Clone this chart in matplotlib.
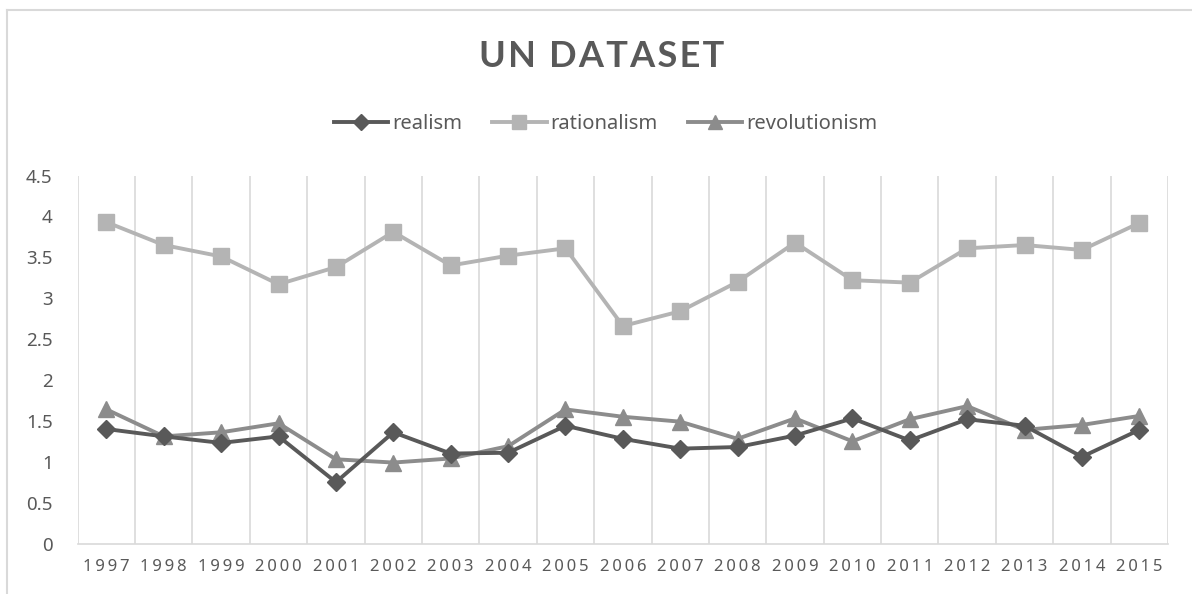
import matplotlib
matplotlib.use("Agg")
import matplotlib.pyplot as plt
from matplotlib.lines import Line2D

plt.rcParams['font.family'] = ['Noto Sans', 'DejaVu Sans']

lata = ["1997", "1998", "1999", "2000", "2001", "2002", "2003", "2004", "2005", "2006",
        "2007", "2008", "2009", "2010", "2011", "2012", "2013", "2014", "2015"]
realism = [1.40, 1.31, 1.23, 1.31, 0.75, 1.36, 1.10, 1.11, 1.44, 1.28,
           1.16, 1.18, 1.32, 1.53, 1.26, 1.52, 1.44, 1.06, 1.39]
rationalism = [3.93, 3.65, 3.51, 3.17, 3.38, 3.81, 3.40, 3.52, 3.61, 2.66,
               2.84, 3.20, 3.68, 3.22, 3.19, 3.61, 3.65, 3.59, 3.92]
revolutionism = [1.64, 1.31, 1.36, 1.47, 1.03, 0.99, 1.04, 1.19, 1.64, 1.55,
                 1.49, 1.28, 1.53, 1.25, 1.52, 1.68, 1.39, 1.45, 1.56]
y_ticks = [0, 0.5, 1, 1.5, 2, 2.5, 3, 3.5, 4, 4.5]

fig = plt.figure(figsize=(11.92, 5.94), dpi=100)
ax = fig.add_axes([0.0652, 0.0850, 0.9147, 0.6195])

# ramka wykresu (widoczna tylko z lewej i u gory)
ramka = "#d9d9d9"
fig.add_artist(Line2D([7.5 / 1192, 7.5 / 1192], [0, 1 - 10 / 594], color=ramka, lw=1.5))
fig.add_artist(Line2D([7.5 / 1192, 1], [1 - 10 / 594, 1 - 10 / 594], color=ramka, lw=1.5))

x = list(range(len(lata)))
ax.plot(x, realism, color="#595959", lw=2.8, marker="D", ms=9.5, label="realism", zorder=4)
ax.plot(x, rationalism, color="#b4b4b4", lw=2.8, marker="s", ms=12, label="rationalism", zorder=3)
ax.plot(x, revolutionism, color="#8c8c8c", lw=2.8, marker="^", ms=12, label="revolutionism", zorder=3)

# pionowe linie siatki miedzy kategoriami
for i in range(len(lata) + 1):
    ax.axvline(i - 0.5, color="#d9d9d9", lw=1.2, zorder=0)

ax.set_xlim(-0.5, len(lata) - 0.5)
ax.set_ylim(0, 4.5)
ax.set_yticks(y_ticks)
ax.set_yticklabels([f"{v:g}" for v in y_ticks], fontsize=13.5, color="#595959")
ax.set_xticks(x)
ax.set_xticklabels(["\u2009".join(r) for r in lata], fontsize=12, color="#595959")
ax.tick_params(axis="both", length=0)
ax.tick_params(axis="y", pad=18)
ax.tick_params(axis="x", pad=11)
for s in ["top", "right", "left"]:
    ax.spines[s].set_visible(False)
ax.spines["bottom"].set_color("#d9d9d9")
ax.spines["bottom"].set_linewidth(1.2)

fig.text(0.505, 0.905, "\u200a".join("UN DATASET"), ha="center", va="center",
         fontsize=26, fontweight="bold", color="#595959", family=["Lato", "DejaVu Sans"])
fig.legend(loc="center", bbox_to_anchor=(0.508, 0.791), ncol=3, frameon=False,
           fontsize=14.5, labelcolor="#595959", handlelength=2.7, handletextpad=0.2,
           columnspacing=1.5, markerscale=0.85)

fig.savefig("out.png", dpi=100)
